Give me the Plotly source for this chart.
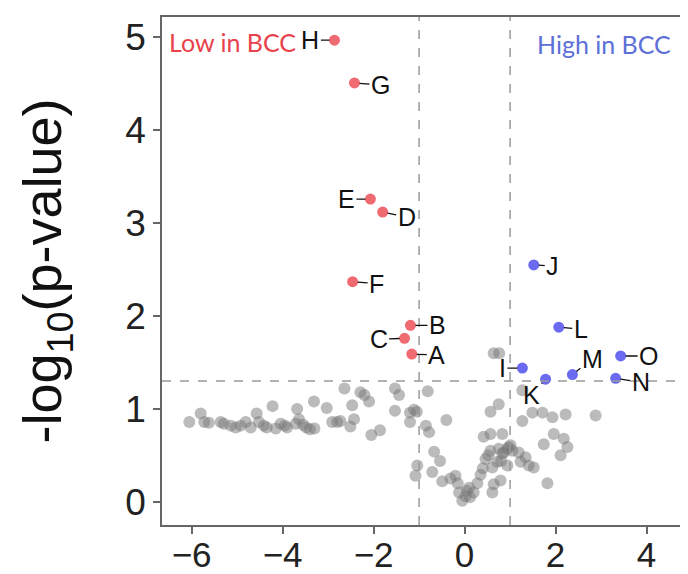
import plotly.graph_objects as go

# ---- data ----
low_labels = ["H", "G", "E", "D", "F", "B", "C", "A"]
low_x = [-2.86, -2.42, -2.07, -1.80, -2.46, -1.19, -1.32, -1.16]
low_y = [4.97, 4.51, 3.26, 3.12, 2.37, 1.90, 1.76, 1.59]

high_labels = ["J", "L", "O", "M", "I", "K", "N"]
high_x = [1.52, 2.07, 3.43, 2.37, 1.27, 1.78, 3.32]
high_y = [2.55, 1.88, 1.57, 1.37, 1.44, 1.32, 1.33]

grey_x = [-6.05, -5.80, -5.72, -5.62, -5.36, -5.29, -5.14, -5.03, -4.92, -4.81,
          -4.70, -4.57, -4.52, -4.41, -4.35, -4.22, -4.15, -4.04, -3.95, -3.90,
          -3.68, -3.64, -3.71, -3.55, -3.48, -3.40, -3.31, -3.30, -3.03, -2.91,
          -2.80, -2.73, -2.64, -2.51, -2.47, -2.43, -2.29, -2.20, -2.10, -2.05,
          -1.86, -1.53, -1.44, -1.53, -1.20, -1.20, -1.05, -1.11, -0.85, -0.81,
          -0.78, -0.40,
          -0.67, -0.54, -1.04, -1.08, -0.71, -0.49, -0.31, -0.20, -0.12, 0.02,
          0.12, -0.05, 0.05, 0.20, 0.28, 0.35, 0.40, 0.46, 0.52, 0.57,
          0.42, 0.57, 0.83, 0.61, 0.72, 0.83, 0.94, 1.01, 0.79, 0.64,
          0.61, 1.19, 1.34, 1.41, 1.52, 1.23, 0.94, 0.64, 0.76, 0.75,
          0.57, 1.27, 1.27, 1.49, 1.71, 1.93, 2.22, 2.88, 1.74, 1.96,
          2.18, 2.26, 2.11, 1.82, 0.86, 0.75, 0.97, 1.05, 0.80, -0.15, 0.10]
grey_y = [0.86, 0.95, 0.86, 0.85, 0.86, 0.84, 0.82, 0.80, 0.82, 0.86,
          0.80, 0.95, 0.86, 0.82, 0.80, 1.03, 0.79, 0.84, 0.82, 0.80,
          1.00, 0.89, 0.84, 0.83, 0.80, 0.78, 1.08, 0.79, 1.01, 0.86,
          0.86, 0.87, 1.22, 0.81, 1.04, 0.89, 1.18, 1.15, 1.08, 0.72,
          0.77, 1.22, 1.15, 0.98, 0.96, 0.86, 0.97, 0.99, 0.82, 1.19,
          0.75, 0.88,
          0.54, 0.44, 0.39, 0.28, 0.32, 0.22, 0.25, 0.28, 0.10, 0.06,
          0.05, 0.01, 0.12, 0.10, 0.20, 0.29, 0.36, 0.46, 0.50, 0.55,
          0.70, 0.73, 0.73, 0.37, 0.43, 0.52, 0.57, 0.61, 0.23, 0.19,
          0.10, 0.53, 0.48, 0.39, 0.37, 0.43, 0.39, 1.60, 1.60, 1.05,
          0.97, 1.20, 0.87, 0.96, 0.96, 0.91, 0.94, 0.93, 0.62, 0.73,
          0.68, 0.59, 0.50, 0.20, 0.53, 0.57, 0.59, 0.55, 0.44, 0.20, 0.15]

FC_THRESH = 1.0
P_LINE = 1.301  # -log10(0.05)

x_ticks = [-6, -4, -2, 0, 2, 4]
y_ticks = [0, 1, 2, 3, 4, 5]

# label offsets (pixels) – styling only
low_off = {"H": (-24, 0), "G": (26, 2), "E": (-24, 0), "D": (24, 5),
           "F": (24, 2), "B": (27, 0), "C": (-26, 1), "A": (25, 1)}
high_off = {"J": (19, 1), "L": (22, 2), "O": (28, 0), "M": (20, -16),
            "I": (-20, 0), "K": (-14, 16), "N": (25, 4)}

RED = "#F06A72"
BLUE = "#6B6BF2"
FONT = "Liberation Sans, Arial, sans-serif"

fig = go.Figure()
fig.add_trace(go.Scatter(x=grey_x, y=grey_y, mode="markers",
                         marker=dict(size=12, color="rgba(120,120,120,0.5)",
                                     line=dict(width=0)),
                         hoverinfo="skip", showlegend=False))
fig.add_trace(go.Scatter(x=low_x, y=low_y, mode="markers",
                         marker=dict(size=11, color=RED), showlegend=False))
fig.add_trace(go.Scatter(x=high_x, y=high_y, mode="markers",
                         marker=dict(size=11, color=BLUE), showlegend=False))

for lab, x, y in zip(low_labels, low_x, low_y):
    ax, ay = low_off[lab]
    fig.add_annotation(x=x, y=y, text=lab, showarrow=True, arrowhead=0,
                       arrowwidth=1.3, arrowcolor="#111", ax=ax, ay=ay,
                       standoff=5, font=dict(family=FONT, size=25, color="#111"))
for lab, x, y in zip(high_labels, high_x, high_y):
    ax, ay = high_off[lab]
    fig.add_annotation(x=x, y=y, text=lab, showarrow=True, arrowhead=0,
                       arrowwidth=1.3, arrowcolor="#111", ax=ax, ay=ay,
                       standoff=5, font=dict(family=FONT, size=25, color="#111"))

fig.add_annotation(x=-6.55, y=4.95, text="Low in BCC", showarrow=False,
                   xanchor="left", yanchor="middle",
                   font=dict(family="Lato, Open Sans, sans-serif", size=25, color="#E8424C"))
fig.add_annotation(x=4.57, y=4.93, text="High in BCC", showarrow=False,
                   xanchor="right", yanchor="middle",
                   font=dict(family="Lato, Open Sans, sans-serif", size=25, color="#5C70D8"))

dash = dict(color="#9a9a9a", width=1.5, dash="dash")
fig.add_vline(x=-FC_THRESH, line=dash)
fig.add_vline(x=FC_THRESH, line=dash)
fig.add_hline(y=P_LINE, line=dash)

axis_common = dict(showline=True, linecolor="#666", linewidth=1.5, mirror=True,
                   ticks="outside", ticklen=7, tickcolor="#666", tickwidth=1.5,
                   showgrid=False, zeroline=False, automargin=False)

fig.update_xaxes(range=[-6.65, 4.8], tickvals=x_ticks, ticklabelstandoff=-9,
                 tickfont=dict(family=FONT, size=35, color="#222"), **axis_common)
fig.update_yaxes(range=[-0.25, 5.22], tickvals=y_ticks,
                 tickfont=dict(family=FONT, size=37, color="#222"),
                 title=dict(text="-log<sub>10</sub>(p-value)", standoff=46,
                            font=dict(family=FONT, size=54, color="#111")),
                 **axis_common)

# the page body adds an 8px offset, so size the figure to fit the window
fig.update_layout(width=680, height=566,
                  margin=dict(l=154, r=5, t=9, b=49),
                  plot_bgcolor="white", paper_bgcolor="white")

fig.write_html("out.html")
